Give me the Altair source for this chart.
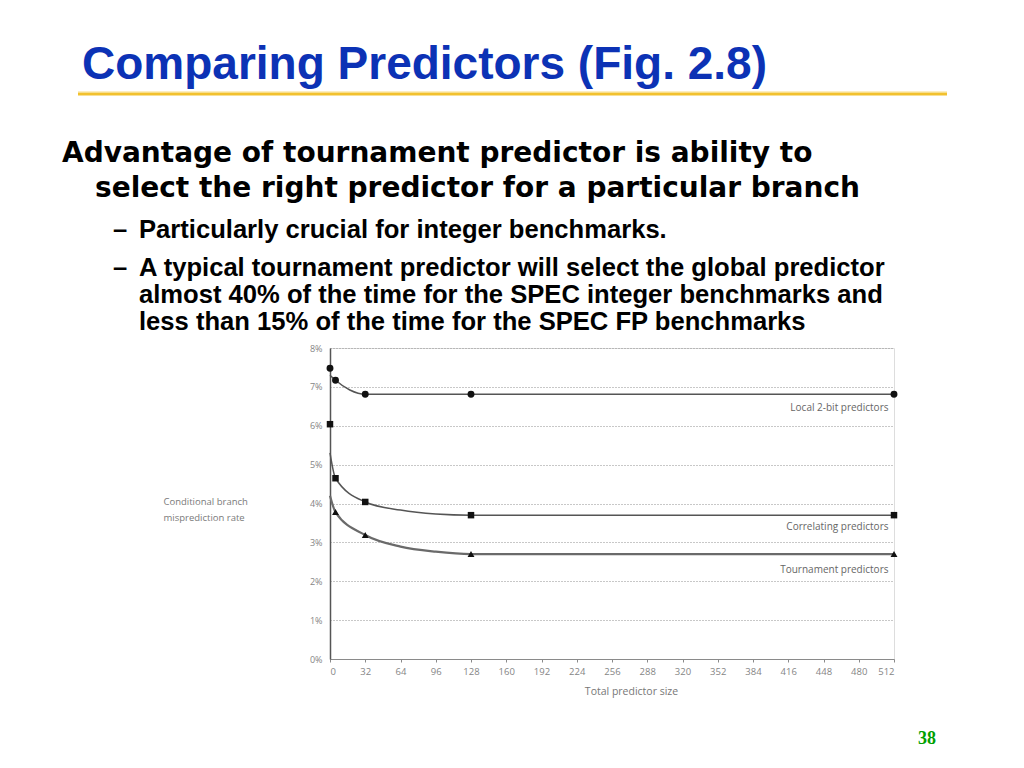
import altair as alt
import pandas as pd

# ---------------- data ----------------
# marker points (total predictor size, misprediction rate %)
local_size = [0, 5, 32, 128, 512]
local_rate = [7.48, 7.17, 6.81, 6.81, 6.81]
corr_size = [0, 5, 32, 128, 512]
corr_rate = [6.04, 4.65, 4.04, 3.70, 3.70]
tour_size = [5, 32, 128, 512]
tour_rate = [3.78, 3.19, 2.70, 2.70]

# traced curve vertices
local_curve_size = [0, 5, 18, 32, 128, 512]
local_curve_rate = [7.30, 7.17, 6.92, 6.81, 6.81, 6.81]
corr_curve_size = [0, 5, 32, 64, 96, 128, 512]
corr_curve_rate = [5.30, 4.65, 4.04, 3.83, 3.73, 3.70, 3.70]
tour_curve_size = [0, 5, 32, 64, 96, 128, 512]
tour_curve_rate = [4.20, 3.78, 3.19, 2.89, 2.76, 2.70, 2.70]

series_labels = ["Local 2-bit predictors", "Correlating predictors", "Tournament predictors"]
label_size = [507, 507, 507]
label_rate = [6.45, 3.39, 2.29]

x_ticks = [0, 32, 64, 96, 128, 160, 192, 224, 256, 288, 320, 352, 384, 416, 448, 480, 512]
y_ticks = [0, 1, 2, 3, 4, 5, 6, 7, 8]

slide_title = "Comparing Predictors (Fig. 2.8)"
main_lines = ["Advantage of tournament predictor is ability to",
              "select the right predictor for a particular branch"]
sub_lines = ["Particularly crucial for integer benchmarks.",
             "A typical tournament predictor will select the global predictor",
             "almost 40% of the time for the SPEC integer benchmarks and",
             "less than 15% of the time for the SPEC FP benchmarks"]
page_number = "38"

# ---------------- layout (page pixel positions) ----------------
OX, OY = 330, 348   # page position of the plot origin
W, H = 564, 311

AXIS_FONT = "Open Sans"

x_enc = alt.X("x:Q", scale=alt.Scale(domain=[0, 512], nice=False),
              axis=alt.Axis(values=x_ticks, grid=False, domainColor="#8a8a8a", domainWidth=1.2,
                            tickColor="#8a8a8a", tickSize=3, labelPadding=4,
                            labelFont=AXIS_FONT, labelFontSize=9.5, labelColor="#858585",
                            title="Total predictor size", titleFont=AXIS_FONT, titleFontSize=10.5,
                            titleFontWeight="normal", titleColor="#777777",
                            titleX=301, titleY=27, titleBaseline="top"))
y_enc = alt.Y("y:Q", scale=alt.Scale(domain=[0, 8], nice=False),
              axis=alt.Axis(values=y_ticks, labelExpr="datum.value + '%'", grid=True,
                            gridDash=[1, 2], gridColor="#909090", gridWidth=1,
                            domainColor="#555555", domainWidth=1.5, ticks=False,
                            labelPadding=8, labelFont=AXIS_FONT, labelFontSize=9,
                            labelColor="#858585",
                            title=["Conditional branch", "misprediction rate"],
                            titleAngle=0, titleAlign="left", titleBaseline="top",
                            titleX=163 - OX, titleY=496 - OY, titleFont=AXIS_FONT,
                            titleFontSize=9.5, titleFontWeight="normal", titleColor="#7a7a7a",
                            titleLineHeight=16))


def df(xs, ys):
    return pd.DataFrame({"x": xs, "y": ys})


def curve(xs, ys, color, width):
    return alt.Chart(df(xs, ys)).mark_line(interpolate="monotone", color=color,
                                           strokeWidth=width).encode(x=x_enc, y=y_enc)


def markers(xs, ys, shape, size):
    return alt.Chart(df(xs, ys)).mark_point(shape=shape, filled=True, color="#111111",
                                            size=size, opacity=1).encode(x=x_enc, y=y_enc)


def page_text(txt, px, py, **kw):
    return alt.Chart(pd.DataFrame({"t": [txt]})).mark_text(
        align="left", baseline="alphabetic", **kw).encode(
        x=alt.value(px - OX), y=alt.value(py - OY), text="t:N")


# invisible anchor keeping the page's top-left corner
anchor = alt.Chart(pd.DataFrame({"a": [0]})).mark_rect(opacity=0).encode(
    x=alt.value(8 - OX), x2=alt.value(0), y=alt.value(8 - OY), y2=alt.value(0))

lines = [
    curve(local_curve_size, local_curve_rate, "#555555", 1.5),
    curve(corr_curve_size, corr_curve_rate, "#555555", 1.5),
    curve(tour_curve_size, tour_curve_rate, "#6a6a6a", 2.2),
]
points = [
    markers(local_size, local_rate, "circle", 48),
    markers(corr_size, corr_rate, "square", 42),
    markers(tour_size, tour_rate, "triangle-up", 48),
]
series_text = alt.Chart(pd.DataFrame({"x": label_size, "y": label_rate, "t": series_labels})).mark_text(
    align="right", baseline="middle", font=AXIS_FONT, fontSize=10, color="#666666").encode(
    x=x_enc, y=y_enc, text="t:N")

gold_rule = alt.Chart(pd.DataFrame({"a": [0]})).mark_rule(color="#f2c12e", strokeWidth=3).encode(
    x=alt.value(78 - OX), x2=alt.value(947 - OX), y=alt.value(94 - OY))
gold_rule_hi = alt.Chart(pd.DataFrame({"a": [0]})).mark_rule(color="#f8dc82", strokeWidth=1).encode(
    x=alt.value(78 - OX), x2=alt.value(947 - OX), y=alt.value(92 - OY))

SUB = dict(font="Liberation Sans", fontSize=25.6, fontWeight="bold", color="#000000")
texts = [
    page_text(slide_title, 82, 79, font="Liberation Sans", fontSize=46, fontWeight="bold", color="#0c32b5"),
    page_text(main_lines[0], 62, 162, font="DejaVu Sans", fontSize=28, fontWeight="bold", color="#000000"),
    page_text(main_lines[1], 95, 197, font="DejaVu Sans", fontSize=28, fontWeight="bold", color="#000000"),
    page_text("\u2013", 113, 238, **SUB),
    page_text(sub_lines[0], 139, 238, **SUB),
    page_text("\u2013", 113, 276, **SUB),
    page_text(sub_lines[1], 139, 276, **SUB),
    page_text(sub_lines[2], 139, 303, **SUB),
    page_text(sub_lines[3], 139, 330, **SUB),
    page_text(page_number, 918, 744, font="Liberation Serif", fontSize=18, fontWeight="bold", color="#00a000"),
]

chart = alt.layer(anchor, *lines, *points, series_text, gold_rule, gold_rule_hi, *texts).properties(
    width=W, height=H, padding=0
).configure_view(fill="#eeeeee", stroke=None).configure(background="#ffffff")

chart.save("out.html", embed_options={"renderer": "svg", "actions": False})
